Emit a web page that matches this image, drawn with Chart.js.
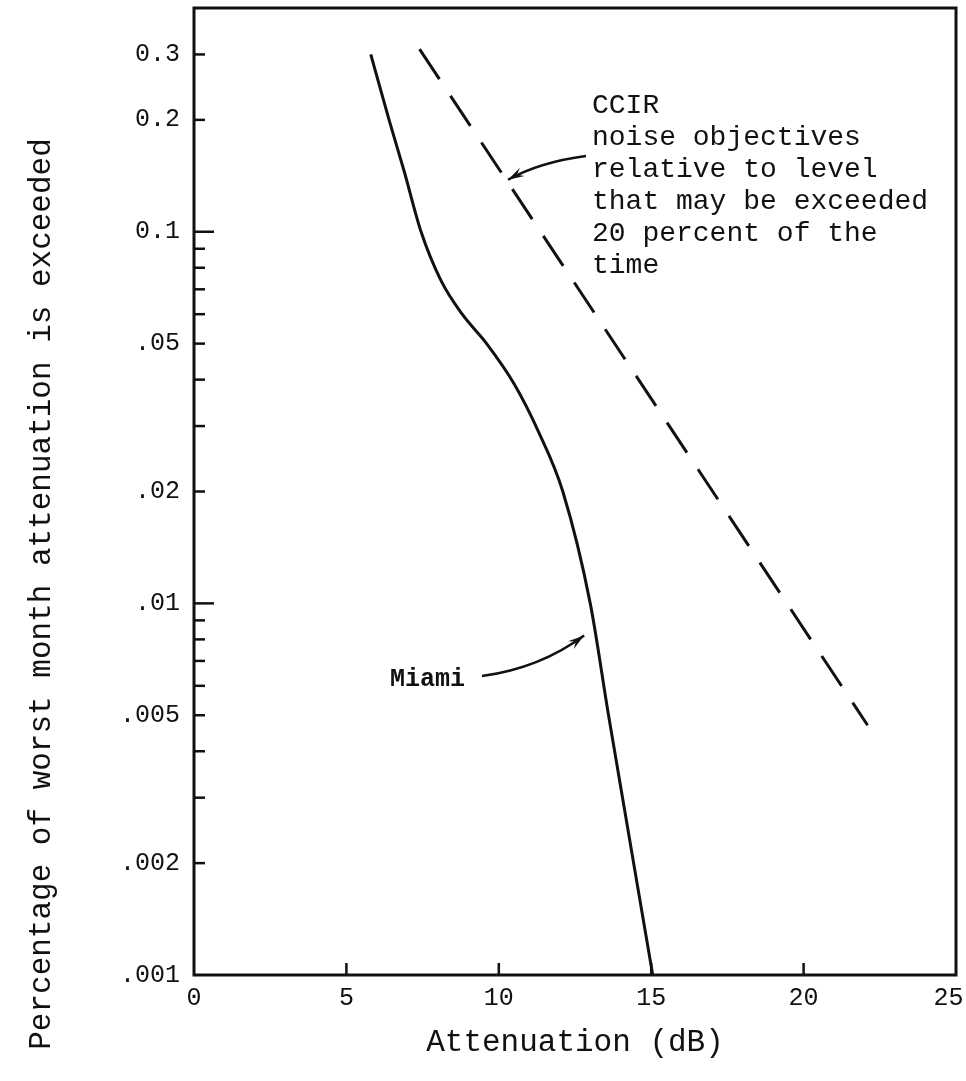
<!DOCTYPE html>
<html>
<head>
<meta charset="utf-8">
<script src="https://cdn.jsdelivr.net/npm/chart.js@4.4.0/dist/chart.umd.min.js"></script>
<style>
  html, body { margin: 0; padding: 0; background: #fff; }
</style>
</head>
<body>
<canvas id="myChart" width="966" height="1081"></canvas>
<script>
"use strict";
// Miami curve, attenuation (dB) vs percentage of worst month
const miamiX = [5.8, 6.4, 6.9, 7.45, 8.1, 8.8, 9.6, 10.5, 11.3, 12.1, 13.0, 13.6, 15.05];
const miamiY = [0.3, 0.2, 0.145, 0.1, 0.074, 0.06, 0.05, 0.039, 0.029, 0.02, 0.01, 0.005, 0.001];

// CCIR noise objectives (dashed)
const ccirX = [7.4, 22.1];
const ccirY = [0.31, 0.0047];

const xTicks = [0, 5, 10, 15, 20, 25];
const yLabelValues = [0.3, 0.2, 0.1, 0.05, 0.02, 0.01, 0.005, 0.002, 0.001];
const yLabelTexts = ["0.3", "0.2", "0.1", ".05", ".02", ".01", ".005", ".002", ".001"];
const yMinorValues = [0.09, 0.08, 0.07, 0.06, 0.04, 0.03, 0.009, 0.008, 0.007, 0.006, 0.004, 0.003];
const yLongTicks = [0.1, 0.01];

const ccirNote = ["CCIR", "noise objectives", "relative to level", "that may be exceeded", "20 percent of the", "time"];

const FONT = "'Liberation Mono', 'DejaVu Sans Mono', monospace";
const INK = "#111";

function toPoints(xs, ys) {
  return xs.map((v, i) => ({ x: v, y: ys[i] }));
}

function arrow(ctx, x0, y0, cx, cy, x1, y1) {
  ctx.beginPath();
  ctx.moveTo(x0, y0);
  ctx.quadraticCurveTo(cx, cy, x1, y1);
  ctx.stroke();
  const ang = Math.atan2(y1 - cy, x1 - cx);
  const len = 17;
  ctx.beginPath();
  ctx.moveTo(x1, y1);
  ctx.lineTo(x1 - len * Math.cos(ang - 0.28), y1 - len * Math.sin(ang - 0.28));
  ctx.lineTo(x1 - len * 0.6 * Math.cos(ang), y1 - len * 0.6 * Math.sin(ang));
  ctx.lineTo(x1 - len * Math.cos(ang + 0.28), y1 - len * Math.sin(ang + 0.28));
  ctx.closePath();
  ctx.fill();
}

const frameAndNotes = {
  id: "frameAndNotes",
  afterDraw(chart) {
    const { ctx, chartArea: a, scales } = chart;
    const x = scales.x;
    const y = scales.y;
    ctx.save();
    ctx.strokeStyle = INK;
    ctx.fillStyle = INK;

    // frame
    ctx.lineWidth = 3;
    ctx.strokeRect(a.left, a.top, a.right - a.left, a.bottom - a.top);

    // inward tick marks
    ctx.lineWidth = 2.5;
    y.ticks.forEach((t) => {
      if (t.value <= 0.001) return;
      const py = y.getPixelForValue(t.value);
      const len = yLongTicks.includes(t.value) ? 20 : 11;
      ctx.beginPath();
      ctx.moveTo(a.left, py);
      ctx.lineTo(a.left + len, py);
      ctx.stroke();
    });
    x.ticks.forEach((t) => {
      if (t.value <= 0 || t.value >= 25) return;
      const px = x.getPixelForValue(t.value);
      ctx.beginPath();
      ctx.moveTo(px, a.bottom);
      ctx.lineTo(px, a.bottom - 12);
      ctx.stroke();
    });

    // axis titles
    ctx.font = "31px " + FONT;
    ctx.textAlign = "center";
    ctx.textBaseline = "middle";
    ctx.fillText("Attenuation (dB)", (a.left + a.right) / 2, 1043);
    ctx.save();
    ctx.translate(42, 594);
    ctx.rotate(-Math.PI / 2);
    ctx.fillText("Percentage of worst month attenuation is exceeded", 0, 0);
    ctx.restore();

    // CCIR note
    ctx.font = "28px " + FONT;
    ctx.textAlign = "left";
    ccirNote.forEach((line, i) => {
      ctx.fillText(line, 592, 106 + i * 32);
    });
    ctx.lineWidth = 2.5;
    arrow(ctx, 586, 156, 540, 162, x.getPixelForValue(10.3), y.getPixelForValue(0.138));

    // Miami note
    ctx.font = "bold 25px " + FONT;
    ctx.textAlign = "left";
    ctx.fillText("Miami", 390, 680);
    arrow(ctx, 482, 676, 540, 668, x.getPixelForValue(12.8), y.getPixelForValue(0.0082));

    ctx.restore();
  },
};

const ctx = document.getElementById("myChart").getContext("2d");
const myChart = new Chart(ctx, {
  type: "line",
  data: {
    datasets: [
      {
        label: "Miami",
        data: toPoints(miamiX, miamiY),
        borderColor: INK,
        borderWidth: 3,
        pointRadius: 0,
        cubicInterpolationMode: "monotone",
        fill: false,
      },
      {
        label: "CCIR",
        data: toPoints(ccirX, ccirY),
        borderColor: INK,
        borderWidth: 3,
        borderDash: [36, 20],
        pointRadius: 0,
        fill: false,
      },
    ],
  },
  options: {
    responsive: false,
    animation: false,
    layout: { padding: { top: 8, right: 10, left: 0, bottom: 0 } },
    plugins: {
      legend: { display: false },
      tooltip: { enabled: false },
    },
    scales: {
      x: {
        type: "linear",
        min: 0,
        max: 25,
        afterBuildTicks: (scale) => {
          scale.ticks = xTicks.map((v) => ({ value: v }));
        },
        afterFit: (scale) => {
          scale.height = 1081 - 975;
          scale.paddingLeft = 0;
          scale.paddingRight = 0;
        },
        grid: { display: false, drawTicks: false },
        border: { display: false },
        ticks: {
          autoSkip: false,
          maxRotation: 0,
          padding: 8,
          color: INK,
          font: { family: FONT, size: 25 },
          // last label sits a little inside the frame corner
          callback: (v) => (v === 25 ? "25 " : String(v)),
        },
      },
      y: {
        type: "logarithmic",
        min: 0.001,
        max: 0.4,
        afterBuildTicks: (scale) => {
          scale.ticks = yLabelValues.concat(yMinorValues).map((v) => ({ value: v }));
        },
        afterFit: (scale) => {
          scale.width = 194;
          scale.paddingTop = 0;
          scale.paddingBottom = 0;
        },
        grid: { display: false, drawTicks: false },
        border: { display: false },
        ticks: {
          autoSkip: false,
          padding: 14,
          color: INK,
          font: { family: FONT, size: 25 },
          callback: (v) => {
            const i = yLabelValues.indexOf(v);
            return i >= 0 ? yLabelTexts[i] : "";
          },
        },
      },
    },
  },
  plugins: [frameAndNotes],
});
</script>
</body>
</html>
